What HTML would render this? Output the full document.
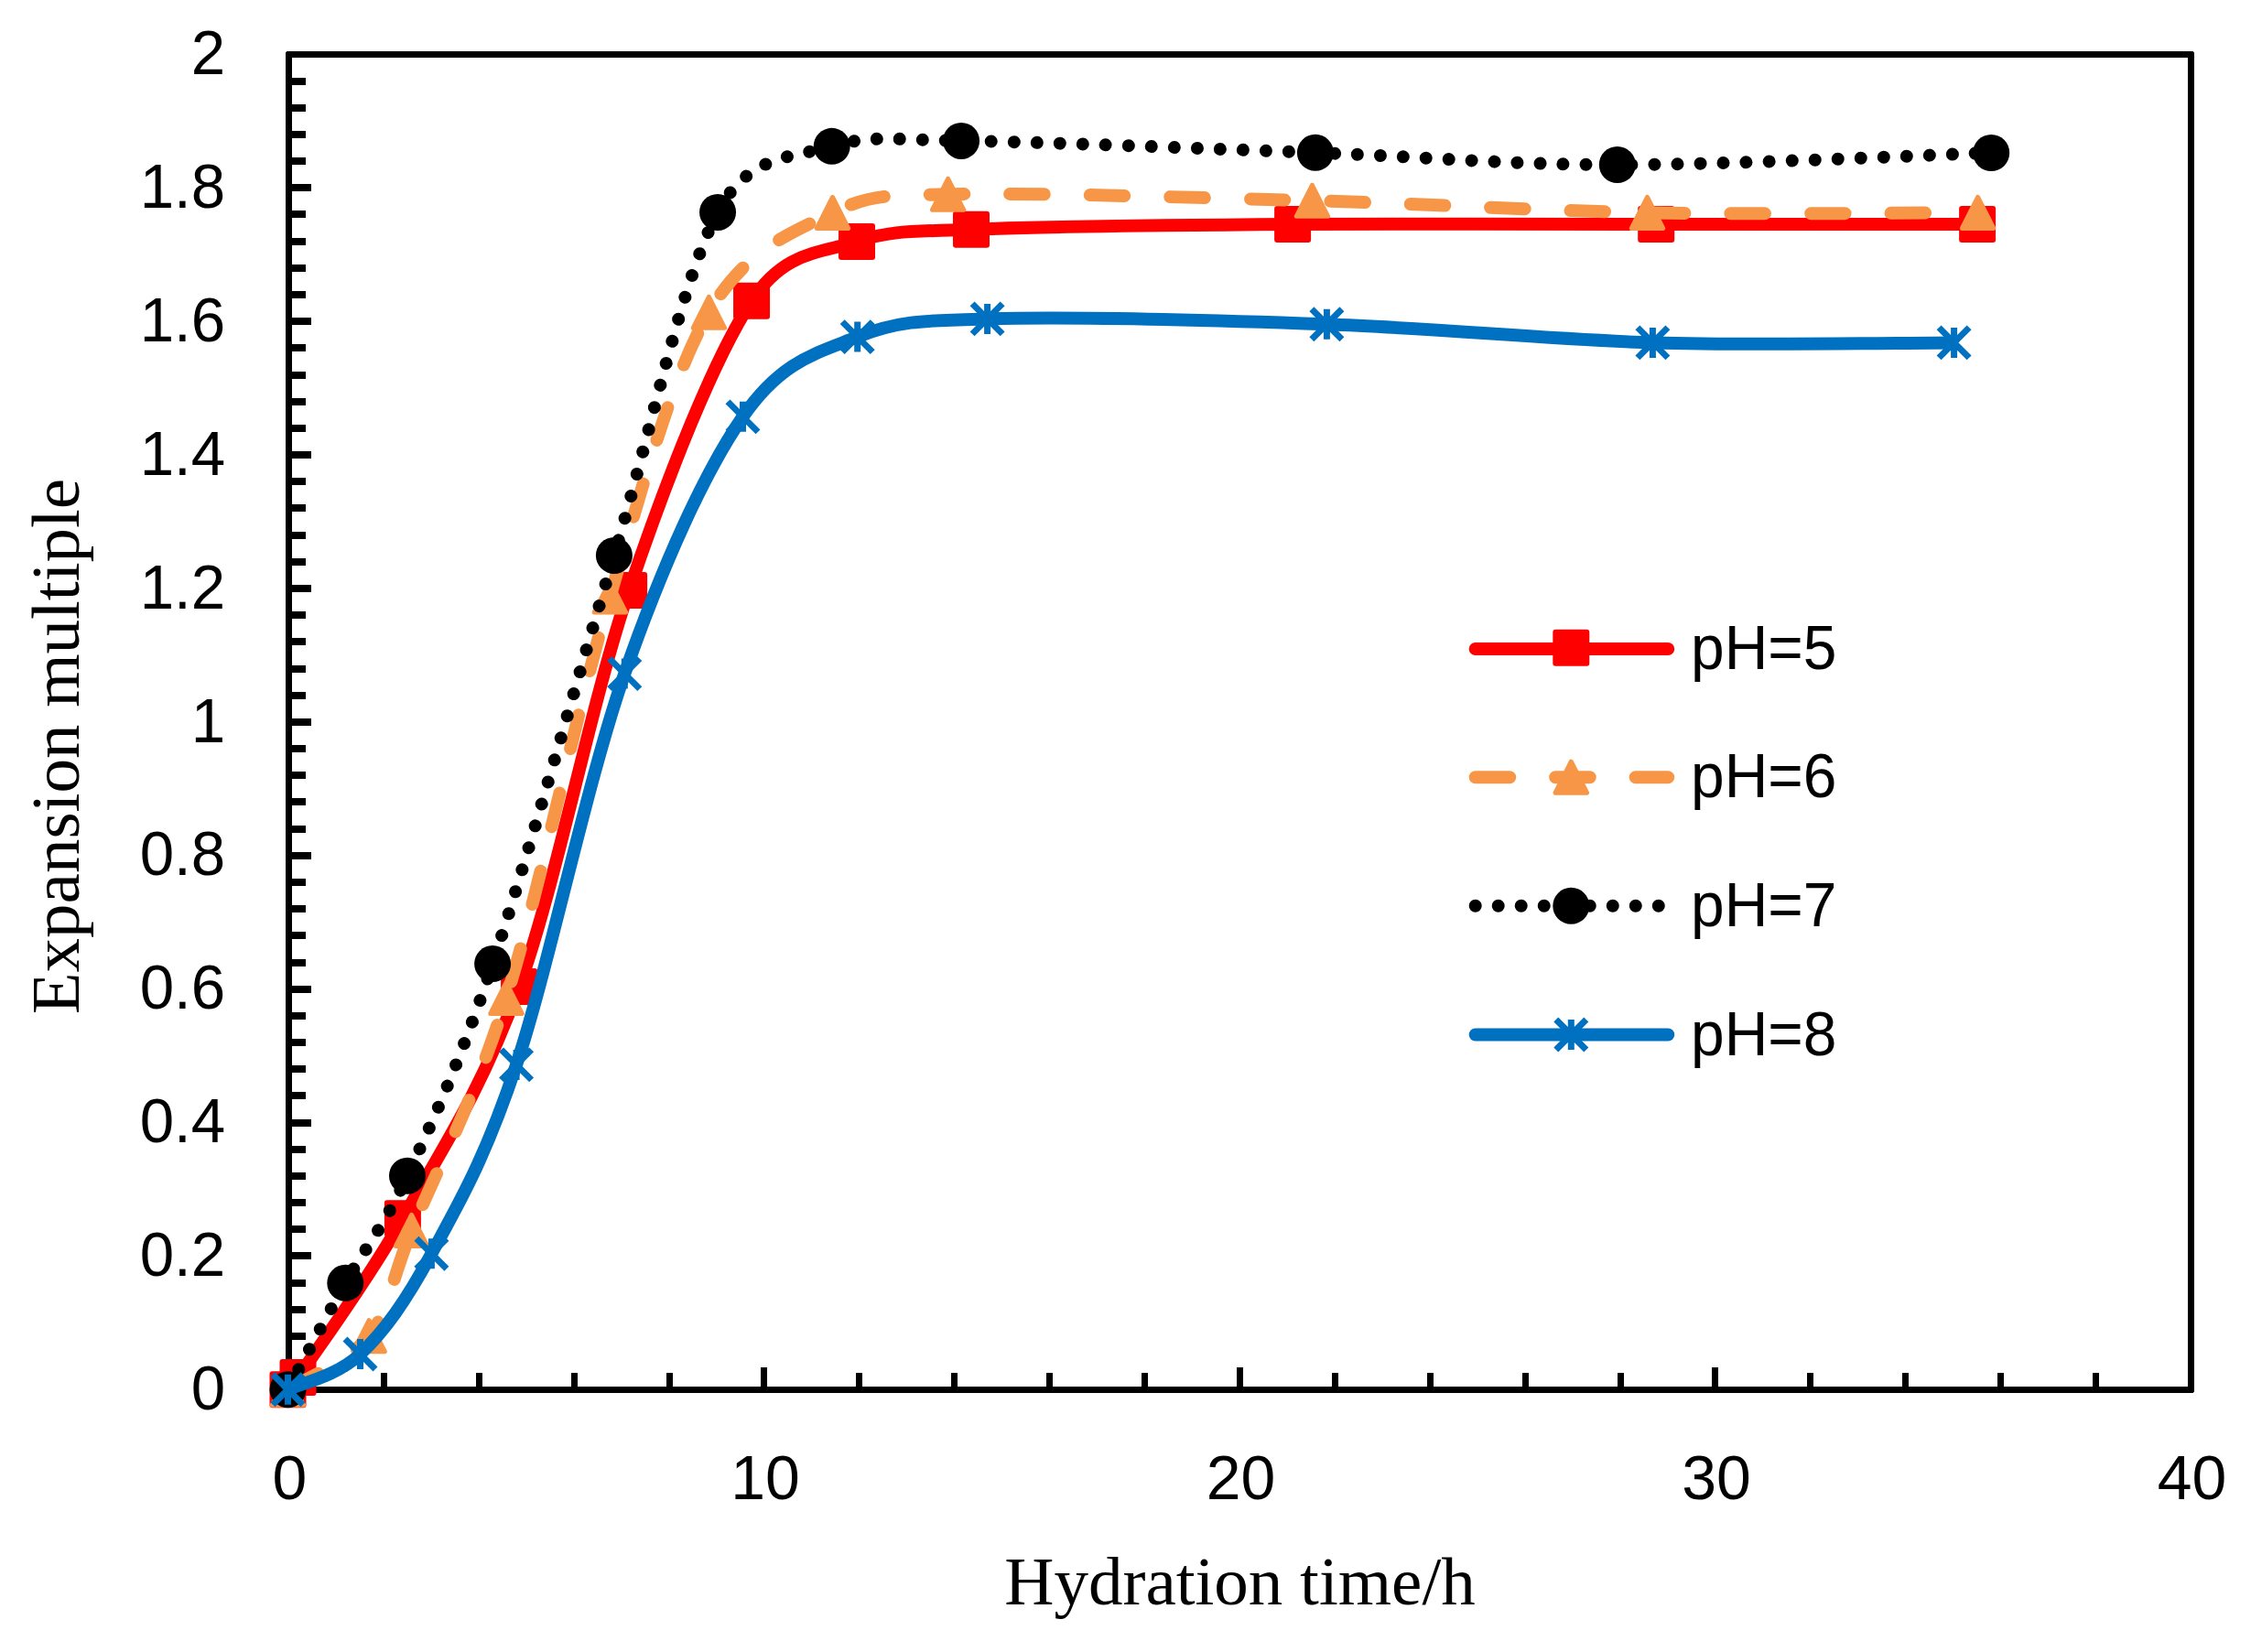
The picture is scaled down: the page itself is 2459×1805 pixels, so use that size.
<!DOCTYPE html>
<html lang="en"><head><meta charset="utf-8"><title>Expansion multiple vs hydration time</title>
<style>html,body{margin:0;padding:0;background:#fff}svg{display:block}.tk{font-family:"Liberation Sans",sans-serif;font-size:69px;fill:#000}.ti{font-family:"Liberation Serif",serif;font-size:75px;fill:#000}</style></head><body>
<svg width="2459" height="1805" viewBox="0 0 2459 1805">
<rect width="2459" height="1805" fill="#fff"/>
<path fill="#000" fill-rule="evenodd" d="M313.5 56 H2395.5 L2397 57.5 V1520.5 L2395.5 1522 H313.5 L312 1520.5 V57.5 Z M319 63 H2390 V1515 H319 Z"/>
<path d="M315.5 1489 H334M315.5 1460 H334M315.5 1431 H334M315.5 1402 H334M315.5 1372 H340M315.5 1343 H334M315.5 1314 H334M315.5 1285 H334M315.5 1256 H334M315.5 1227 H340M315.5 1197 H334M315.5 1168 H334M315.5 1139 H334M315.5 1110 H334M315.5 1081 H340M315.5 1052 H334M315.5 1022 H334M315.5 993 H334M315.5 964 H334M315.5 935 H340M315.5 906 H334M315.5 876 H334M315.5 847 H334M315.5 818 H334M315.5 789 H340M315.5 760 H334M315.5 731 H334M315.5 701 H334M315.5 672 H334M315.5 643 H340M315.5 614 H334M315.5 585 H334M315.5 555 H334M315.5 526 H334M315.5 497 H340M315.5 468 H334M315.5 439 H334M315.5 410 H334M315.5 380 H334M315.5 351 H340M315.5 322 H334M315.5 293 H334M315.5 264 H334M315.5 234 H334M315.5 205 H340M315.5 176 H334M315.5 147 H334M315.5 118 H334M315.5 89 H334" stroke="#000" stroke-width="8" fill="none"/>
<path d="M419.5 1518.5 V1500M523.5 1518.5 V1500M627.5 1518.5 V1500M731.5 1518.5 V1500M834.5 1518.5 V1494M938.5 1518.5 V1500M1042.5 1518.5 V1500M1146.5 1518.5 V1500M1250.5 1518.5 V1500M1354.5 1518.5 V1494M1458.5 1518.5 V1500M1562.5 1518.5 V1500M1666.5 1518.5 V1500M1770.5 1518.5 V1500M1873.5 1518.5 V1494M1977.5 1518.5 V1500M2081.5 1518.5 V1500M2185.5 1518.5 V1500M2289.5 1518.5 V1500" stroke="#000" stroke-width="7" fill="none"/>
<text class="tk" transform="translate(246.2 1540) scale(0.975 1)" text-anchor="end">0</text>
<text class="tk" transform="translate(246.2 1394.1) scale(0.975 1)" text-anchor="end">0.2</text>
<text class="tk" transform="translate(246.2 1248.2) scale(0.975 1)" text-anchor="end">0.4</text>
<text class="tk" transform="translate(246.2 1102.3) scale(0.975 1)" text-anchor="end">0.6</text>
<text class="tk" transform="translate(246.2 956.4) scale(0.975 1)" text-anchor="end">0.8</text>
<text class="tk" transform="translate(246.2 810.5) scale(0.975 1)" text-anchor="end">1</text>
<text class="tk" transform="translate(246.2 664.6) scale(0.975 1)" text-anchor="end">1.2</text>
<text class="tk" transform="translate(246.2 518.7) scale(0.975 1)" text-anchor="end">1.4</text>
<text class="tk" transform="translate(246.2 372.8) scale(0.975 1)" text-anchor="end">1.6</text>
<text class="tk" transform="translate(246.2 226.9) scale(0.975 1)" text-anchor="end">1.8</text>
<text class="tk" transform="translate(246.2 81) scale(0.975 1)" text-anchor="end">2</text>
<text class="tk" transform="translate(316.5 1638.3) scale(0.985 1)" text-anchor="middle">0</text>
<text class="tk" transform="translate(836 1638.3) scale(0.985 1)" text-anchor="middle">10</text>
<text class="tk" transform="translate(1355.5 1638.3) scale(0.985 1)" text-anchor="middle">20</text>
<text class="tk" transform="translate(1875 1638.3) scale(0.985 1)" text-anchor="middle">30</text>
<text class="tk" transform="translate(2394.5 1638.3) scale(0.985 1)" text-anchor="middle">40</text>
<text class="ti" x="1354.5" y="1752.7" text-anchor="middle">Hydration time/h</text>
<text class="ti" transform="translate(86.1 1108.2) rotate(-90)">Expansion multiple</text>
<g>
<path d="M314.5 1518.2 C316.33 1516 320.72 1512.14 325.5 1505 C346.4 1473.83 399.63 1402.37 439.9 1331.2 C480.17 1260.03 525.9 1192.37 567.1 1078 C608.3 963.63 644.78 769.86 687.1 645 C729.42 520.14 779.57 392.37 821.05 328.85 C857.15 273.58 896.01 276.92 936 263.9 C975.99 250.87 998.2 253.19 1061 250.7 C1140.35 247.55 1287.4 245.93 1412.1 245 C1536.8 244.07 1684.53 245.1 1809.2 245.1 C1933.87 245.1 2101.62 245.02 2160.1 245" fill="none" stroke="#ff0000" stroke-width="14" stroke-linejoin="round"/>
<rect x="294.5" y="1498.2" width="40" height="40" rx="3" fill="#ff0000"/>
<rect x="305.5" y="1485" width="40" height="40" rx="3" fill="#ff0000"/>
<rect x="419.9" y="1311.2" width="40" height="40" rx="3" fill="#ff0000"/>
<rect x="547.1" y="1058" width="40" height="40" rx="3" fill="#ff0000"/>
<rect x="667.1" y="625" width="40" height="40" rx="3" fill="#ff0000"/>
<rect x="801.05" y="308.85" width="40" height="40" rx="3" fill="#ff0000"/>
<rect x="916" y="243.9" width="40" height="40" rx="3" fill="#ff0000"/>
<rect x="1041" y="230.7" width="40" height="40" rx="3" fill="#ff0000"/>
<rect x="1392.1" y="225" width="40" height="40" rx="3" fill="#ff0000"/>
<rect x="1789.2" y="225.1" width="40" height="40" rx="3" fill="#ff0000"/>
<rect x="2140.1" y="225" width="40" height="40" rx="3" fill="#ff0000"/>
</g>
<g>
<path d="M314.5 1518.2 C329.27 1508.45 380.58 1488.67 403.1 1459.7 C425.62 1430.73 426.22 1402 449.6 1344.4 C474.58 1282.85 516.87 1205.8 553 1090.4 C589.13 975 629.5 776.85 666.4 652 C703.3 527.15 733.88 411.22 774.4 341.3 C814.92 271.38 865.97 254 909.5 232.5 C953.03 211 971.77 213.91 1035.6 212.3 C1122.92 210.1 1306.08 215.95 1433.4 219.3 C1560.72 222.65 1679.8 230.22 1799.5 232.4 C1919.2 234.58 2092.92 232.4 2151.6 232.4" fill="none" stroke="#f79646" stroke-width="14" stroke-linejoin="round" stroke-dasharray="37.5 50" stroke-linecap="round"/>
<path d="M314.5 1501.2 L331.7 1535.2 L297.3 1535.2 Z" fill="#f79646" stroke="#f79646" stroke-width="5" stroke-linejoin="round"/>
<path d="M403.1 1442.7 L420.3 1476.7 L385.9 1476.7 Z" fill="#f79646" stroke="#f79646" stroke-width="5" stroke-linejoin="round"/>
<path d="M449.6 1327.4 L466.8 1361.4 L432.4 1361.4 Z" fill="#f79646" stroke="#f79646" stroke-width="5" stroke-linejoin="round"/>
<path d="M553 1073.4 L570.2 1107.4 L535.8 1107.4 Z" fill="#f79646" stroke="#f79646" stroke-width="5" stroke-linejoin="round"/>
<path d="M666.4 635 L683.6 669 L649.2 669 Z" fill="#f79646" stroke="#f79646" stroke-width="5" stroke-linejoin="round"/>
<path d="M774.4 324.3 L791.6 358.3 L757.2 358.3 Z" fill="#f79646" stroke="#f79646" stroke-width="5" stroke-linejoin="round"/>
<path d="M909.5 215.5 L926.7 249.5 L892.3 249.5 Z" fill="#f79646" stroke="#f79646" stroke-width="5" stroke-linejoin="round"/>
<path d="M1035.6 195.3 L1052.8 229.3 L1018.4 229.3 Z" fill="#f79646" stroke="#f79646" stroke-width="5" stroke-linejoin="round"/>
<path d="M1433.4 202.3 L1450.6 236.3 L1416.2 236.3 Z" fill="#f79646" stroke="#f79646" stroke-width="5" stroke-linejoin="round"/>
<path d="M1799.5 215.4 L1816.7 249.4 L1782.3 249.4 Z" fill="#f79646" stroke="#f79646" stroke-width="5" stroke-linejoin="round"/>
<path d="M2160.6 215.4 L2177.8 249.4 L2143.4 249.4 Z" fill="#f79646" stroke="#f79646" stroke-width="5" stroke-linejoin="round"/>
</g>
<g>
<path d="M314.5 1518.2 C324.97 1498.8 355.55 1440.72 377.3 1401.8 C399.05 1362.88 418.2 1342.77 445 1284.65 C471.8 1226.53 500.45 1166.06 538.1 1053.1 C575.75 940.14 629.91 743.77 670.9 606.9 C711.89 470.03 744.41 306.41 784.04 231.9 C817.85 168.34 864.37 172.86 908.7 159.86 C953.04 146.86 979.32 152.97 1050.05 153.9 C1138.08 155.06 1317.44 162.45 1436.9 166.8 C1556.36 171.15 1643.75 179.97 1766.8 180 C1889.85 180.03 2107.13 169.17 2175.2 167" fill="none" stroke="#000000" stroke-width="14" stroke-linejoin="round" stroke-dasharray="0.01 25" stroke-linecap="round"/>
<circle cx="314.5" cy="1518.2" r="20" fill="#000000"/>
<circle cx="377.3" cy="1401.8" r="20" fill="#000000"/>
<circle cx="445" cy="1284.65" r="20" fill="#000000"/>
<circle cx="538.1" cy="1053.1" r="20" fill="#000000"/>
<circle cx="670.9" cy="606.9" r="20" fill="#000000"/>
<circle cx="784.04" cy="231.9" r="20" fill="#000000"/>
<circle cx="908.7" cy="159.86" r="20" fill="#000000"/>
<circle cx="1050.05" cy="153.9" r="20" fill="#000000"/>
<circle cx="1436.9" cy="166.8" r="20" fill="#000000"/>
<circle cx="1766.8" cy="180" r="20" fill="#000000"/>
<circle cx="2175.2" cy="167" r="20" fill="#000000"/>
</g>
<g>
<path d="M314.5 1518.2 C327.67 1511.75 367.35 1504.23 393.5 1479.5 C419.65 1454.77 442.97 1422.48 471.4 1369.8 C499.83 1317.12 528.95 1269.02 564.1 1163.4 C599.25 1057.78 641.07 854.11 682.3 736.1 C723.53 618.09 769.1 516.68 811.5 455.35 C853.9 394.02 892.18 385.93 936.7 368.1 C981.22 350.28 1007 350.33 1078.6 348.4 C1164.05 346.1 1328.27 349.97 1449.4 354.3 C1570.53 358.63 1691.2 371.05 1805.4 374.4 C1919.6 377.75 2079.73 374.4 2134.6 374.4" fill="none" stroke="#0070c0" stroke-width="14" stroke-linejoin="round"/>
<path d="M298 1501.7 L331 1534.7 M298 1534.7 L331 1501.7 M314.5 1501.7 L314.5 1534.7" stroke="#0070c0" stroke-width="7" fill="none"/>
<path d="M377 1463 L410 1496 M377 1496 L410 1463 M393.5 1463 L393.5 1496" stroke="#0070c0" stroke-width="7" fill="none"/>
<path d="M454.9 1353.3 L487.9 1386.3 M454.9 1386.3 L487.9 1353.3 M471.4 1353.3 L471.4 1386.3" stroke="#0070c0" stroke-width="7" fill="none"/>
<path d="M547.6 1146.9 L580.6 1179.9 M547.6 1179.9 L580.6 1146.9 M564.1 1146.9 L564.1 1179.9" stroke="#0070c0" stroke-width="7" fill="none"/>
<path d="M665.8 719.6 L698.8 752.6 M665.8 752.6 L698.8 719.6 M682.3 719.6 L682.3 752.6" stroke="#0070c0" stroke-width="7" fill="none"/>
<path d="M795 438.85 L828 471.85 M795 471.85 L828 438.85 M811.5 438.85 L811.5 471.85" stroke="#0070c0" stroke-width="7" fill="none"/>
<path d="M920.2 351.6 L953.2 384.6 M920.2 384.6 L953.2 351.6 M936.7 351.6 L936.7 384.6" stroke="#0070c0" stroke-width="7" fill="none"/>
<path d="M1062.1 331.9 L1095.1 364.9 M1062.1 364.9 L1095.1 331.9 M1078.6 331.9 L1078.6 364.9" stroke="#0070c0" stroke-width="7" fill="none"/>
<path d="M1432.9 337.8 L1465.9 370.8 M1432.9 370.8 L1465.9 337.8 M1449.4 337.8 L1449.4 370.8" stroke="#0070c0" stroke-width="7" fill="none"/>
<path d="M1788.9 357.9 L1821.9 390.9 M1788.9 390.9 L1821.9 357.9 M1805.4 357.9 L1805.4 390.9" stroke="#0070c0" stroke-width="7" fill="none"/>
<path d="M2118.1 357.9 L2151.1 390.9 M2118.1 390.9 L2151.1 357.9 M2134.6 357.9 L2134.6 390.9" stroke="#0070c0" stroke-width="7" fill="none"/>
</g>
<path d="M1611.7 709 H1822.2" fill="none" stroke="#ff0000" stroke-width="14" stroke-linecap="round"/>
<rect x="1696.3" y="687.7" width="40" height="40" rx="3" fill="#ff0000"/>
<text class="tk" transform="translate(1847 730.8) scale(0.955 1)">pH=5</text>
<path d="M1611.7 849.2 H1822.2" fill="none" stroke="#f79646" stroke-width="14" stroke-dasharray="37.5 50" stroke-linecap="round"/>
<path d="M1716.3 832.2 L1733.5 866.2 L1699.1 866.2 Z" fill="#f79646" stroke="#f79646" stroke-width="5" stroke-linejoin="round"/>
<text class="tk" transform="translate(1847 871.2) scale(0.955 1)">pH=6</text>
<path d="M1611.7 989.8 H1822.2" fill="none" stroke="#000000" stroke-width="14" stroke-dasharray="0.01 25" stroke-linecap="round"/>
<circle cx="1716.3" cy="989.8" r="20" fill="#000000"/>
<text class="tk" transform="translate(1847 1011.8) scale(0.955 1)">pH=7</text>
<path d="M1611.7 1130.5 H1822.2" fill="none" stroke="#0070c0" stroke-width="14" stroke-linecap="round"/>
<path d="M1699.8 1114 L1732.8 1147 M1699.8 1147 L1732.8 1114 M1716.3 1114 L1716.3 1147" stroke="#0070c0" stroke-width="7" fill="none"/>
<text class="tk" transform="translate(1847 1152.5) scale(0.955 1)">pH=8</text>
</svg></body></html>
